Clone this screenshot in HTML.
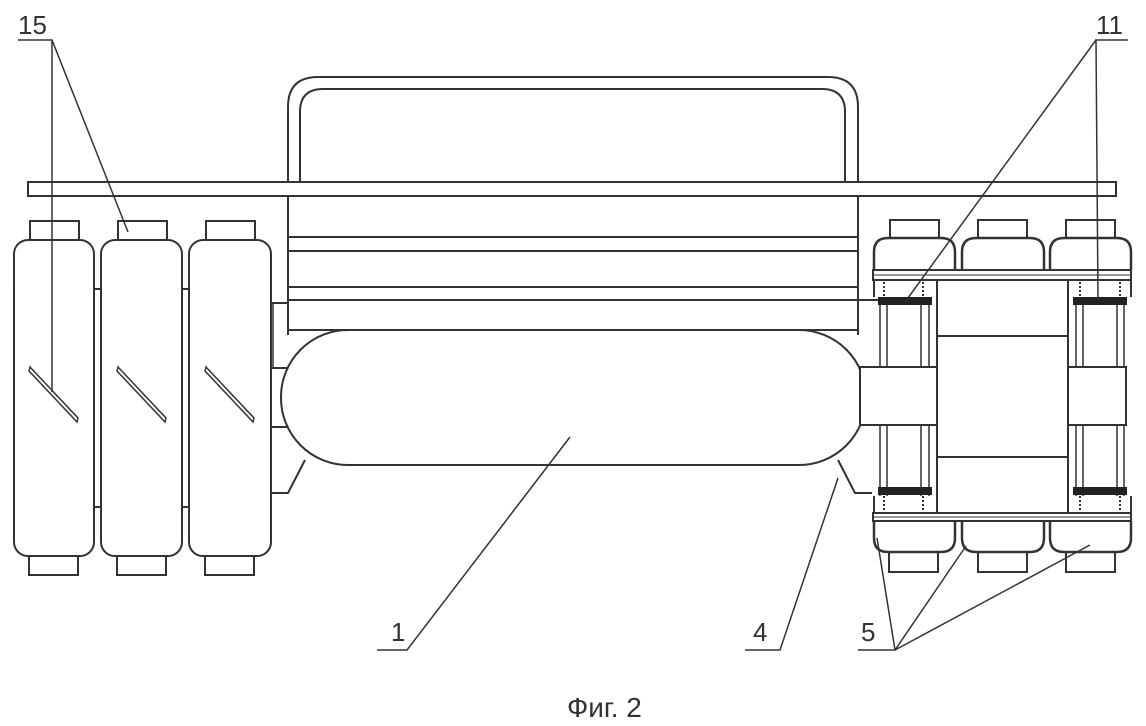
<!DOCTYPE html>
<html><head><meta charset="utf-8"><style>
html,body{margin:0;padding:0;background:#fff;width:1146px;height:726px;overflow:hidden}
svg{display:block}
text{font-family:"Liberation Sans",sans-serif;fill:#333}
</style></head><body>
<svg width="1146" height="726" viewBox="0 0 1146 726" xmlns="http://www.w3.org/2000/svg">
<g fill="none" stroke="#333" stroke-width="2">
<path d="M288 182 V107 Q288 77 318 77 H828 Q858 77 858 107 V182"/>
<path d="M300 182 V112 Q300 89 323 89 H822 Q845 89 845 112 V182"/>
<rect x="28" y="182" width="1088" height="14"/>
<line x1="288" y1="196" x2="288" y2="335"/>
<line x1="858" y1="196" x2="858" y2="335"/>
<line x1="288" y1="237" x2="858" y2="237"/>
<line x1="288" y1="251" x2="858" y2="251"/>
<line x1="288" y1="287" x2="858" y2="287"/>
<line x1="288" y1="300" x2="880" y2="300"/>
<line x1="288" y1="330" x2="858" y2="330"/>
<path d="M271 303 H288 M271 368 H288 M271 427 H288"/>
<path d="M273 303 V368" stroke-width="1.5"/>
<path d="M271 493 H288 L305 460"/>
<path d="M872 493 H855 L838 460"/>
<rect x="281" y="330" width="585" height="135" rx="67" ry="67" fill="#fff"/>
<g>
<rect x="30" y="221" width="49" height="19"/><rect x="29" y="556" width="49" height="19"/>
<rect x="14" y="240" width="80" height="316" rx="14"/>
<rect x="118" y="221" width="49" height="19"/><rect x="117" y="556" width="49" height="19"/>
<rect x="101" y="240" width="81" height="316" rx="14"/>
<rect x="206" y="221" width="49" height="19"/><rect x="205" y="556" width="49" height="19"/>
<rect x="189" y="240" width="82" height="316" rx="14"/>
<path d="M94 289 H101 M94 507 H101 M182 289 H189 M182 507 H189"/>
<path d="M94 289 V507 M101 289 V507 M182 289 V507 M189 289 V507" stroke-width="1.5"/>
<path d="M30 367 L78 418 L77 422 L29 371 Z" stroke-width="1.5"/>
<path d="M118 367 L166 418 L165 422 L117 371 Z" stroke-width="1.5"/>
<path d="M206 367 L254 418 L253 422 L205 371 Z" stroke-width="1.5"/>
</g>
<g>
<rect x="890" y="220" width="49" height="18"/><rect x="978" y="220" width="49" height="18"/><rect x="1066" y="220" width="49" height="18"/>
<rect x="889" y="552" width="49" height="20"/><rect x="978" y="552" width="49" height="20"/><rect x="1066" y="552" width="49" height="20"/>
<path d="M874 270 V252 Q874 238 888 238 H941 Q955 238 955 252 V270" stroke-width="2.5"/>
<path d="M962 270 V252 Q962 238 976 238 H1030 Q1044 238 1044 252 V270" stroke-width="2.5"/>
<path d="M1050 270 V252 Q1050 238 1064 238 H1117 Q1131 238 1131 252 V270" stroke-width="2.5"/>
<path d="M874 521 V538 Q874 552 888 552 H941 Q955 552 955 538 V521" stroke-width="2.5"/>
<path d="M962 521 V538 Q962 552 976 552 H1030 Q1044 552 1044 538 V521" stroke-width="2.5"/>
<path d="M1050 521 V538 Q1050 552 1064 552 H1117 Q1131 552 1131 538 V521" stroke-width="2.5"/>
<rect x="873" y="270" width="258" height="10"/>
<line x1="873" y1="275" x2="1131" y2="275" stroke-width="1"/>
<rect x="873" y="513" width="258" height="8"/>
<line x1="873" y1="517" x2="1131" y2="517" stroke-width="1"/>
<rect x="937" y="280" width="131" height="233"/>
<line x1="937" y1="336" x2="1068" y2="336"/><line x1="937" y1="457" x2="1068" y2="457"/>
<rect x="860" y="367" width="77" height="58" fill="#fff"/>
<rect x="1068" y="367" width="58" height="58"/>
<path d="M874 280 H937 V297 M1068 297 V280 H1131 V297 M874 280 V297" />
<path d="M874 513 V496 M1131 513 V496"/>
<path d="M880 297 V367 M887 297 V367 M921 297 V367 M929 297 V367 M880 425 V496 M887 425 V496 M921 425 V496 M929 425 V496" stroke-width="1.5"/>
<path d="M1076 297 V367 M1083 297 V367 M1117 297 V367 M1124 297 V367 M1076 425 V496 M1083 425 V496 M1117 425 V496 M1124 425 V496" stroke-width="1.5"/>
<path d="M884 282 V297 M923 282 V297 M1080 282 V297 M1120 282 V297 M884 496 V511 M923 496 V511 M1080 496 V511 M1120 496 V511" stroke-width="2" stroke-dasharray="2 2"/>
</g>
<g fill="#222" stroke="none">
<rect x="878" y="297" width="54" height="8"/><rect x="1073" y="297" width="54" height="8"/>
<rect x="878" y="487" width="54" height="8"/><rect x="1073" y="487" width="54" height="8"/>
</g>
<g stroke-width="1.5">
<path d="M18 40 H52 V392 M52 40 L128 232"/>
<path d="M1095 40 H1128 M1096 40 L905 302 M1096 40 L1098 300"/>
<path d="M377 650 H407 L570 437"/>
<path d="M745 650 H780 L838 478"/>
<path d="M858 650 H895 L877 538 M895 650 L966 546 M895 650 L1090 545"/>
</g>
</g>
<text x="18" y="34" font-size="26">15</text>
<text x="1096" y="34" font-size="26">11</text>
<text x="391" y="641" font-size="26">1</text>
<text x="753" y="641" font-size="26">4</text>
<text x="861" y="641" font-size="26">5</text>
<text x="567" y="717" font-size="28">Фиг. 2</text>
</svg>
</body></html>
